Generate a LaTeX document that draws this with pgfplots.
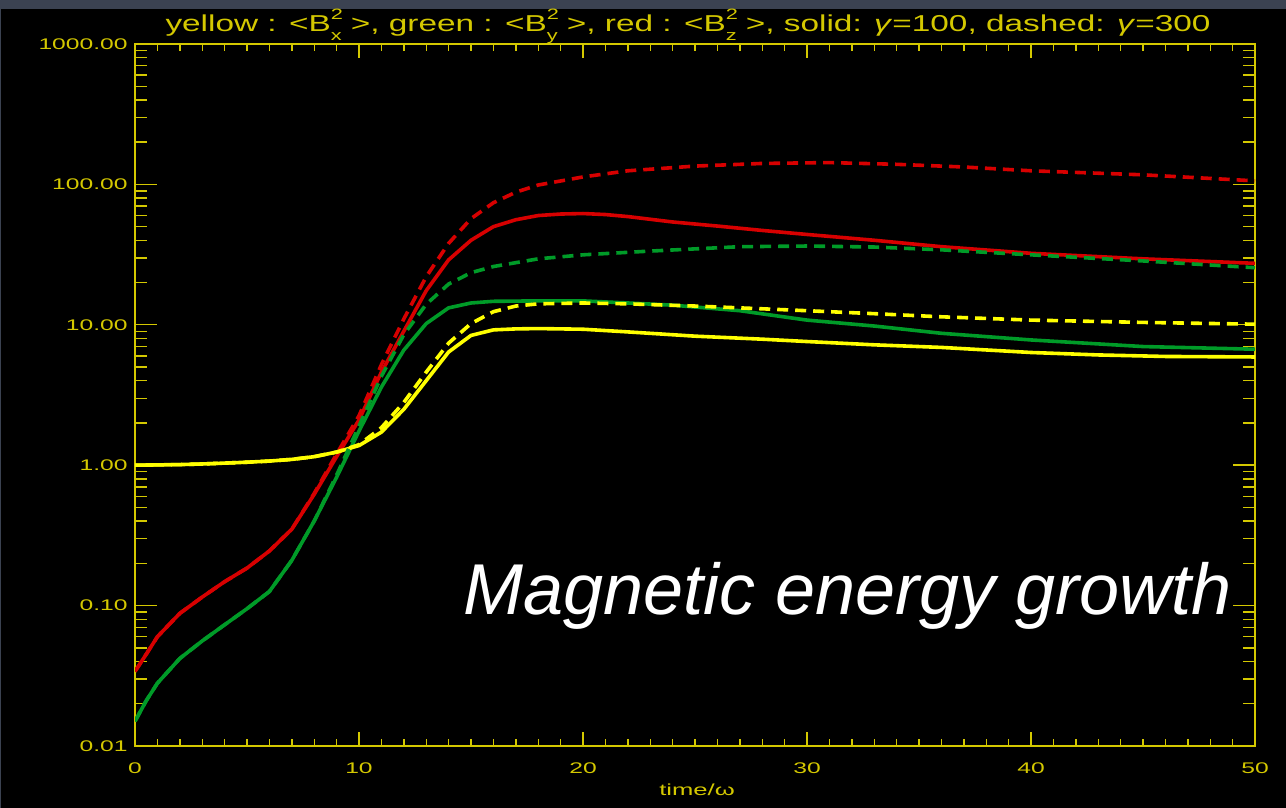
\documentclass[border=0pt]{standalone}
\usepackage{fontspec}
\setmainfont{Liberation Sans}
\newfontfamily\idlfont[FakeStretch=1.6]{Liberation Sans}
\newfontfamily\idltitle[FakeStretch=1.45]{Liberation Sans}
\newfontfamily\magfont{Liberation Sans}
\usepackage{pgfplots}
\pgfplotsset{compat=1.18}
\definecolor{axyel}{RGB}{212,200,0}
\definecolor{cyel}{RGB}{255,255,0}
\definecolor{cgrn}{RGB}{0,155,40}
\definecolor{cred}{RGB}{215,0,0}
\definecolor{bgray}{RGB}{59,66,81}
\newcommand\bsub[1]{\rlap{\raisebox{0.55em}{\fontsize{7.5}{8}\selectfont 2}}\raisebox{-0.35em}{\fontsize{7.5}{8}\selectfont #1}}
\pgfplotsset{
  idlbase/.style={
    scale only axis, width=560pt, height=351pt,
    at={(67.5pt,31pt)}, anchor=south west,
    xmin=0, xmax=50, ymin=0.01, ymax=1000,
    axis line style={axyel, line width=0.9pt},
    tick style={axyel, line width=0.7pt},
    tick align=inside,
    tick pos=both,
    ticklabel style={text=axyel, font=\idlfont\fontsize{7.7}{9}\selectfont},
  }
}
\begin{document}
\begin{tikzpicture}
\fill[black] (0,0) rectangle (643pt,404pt);
\fill[bgray] (0,399.5pt) rectangle (643pt,404pt);
\fill[bgray] (0,0) rectangle (0.5pt,404pt);
% y ticks axis
\begin{axis}[ymode=log, idlbase,
  xtick=\empty,
  ytick={0.01,0.1,1,10,100,1000},
  yticklabels={0.01,0.10,1.00,10.00,100.00,1000.00},
  minor ytick={0.02,0.03,0.04,0.05,0.06,0.07,0.08,0.09,0.2,0.3,0.4,0.5,0.6,0.7,0.8,0.9,2,3,4,5,6,7,8,9,20,30,40,50,60,70,80,90,200,300,400,500,600,700,800,900},
  major tick length=11pt, minor tick length=6pt,
  yticklabel pos=left,
  yticklabel style={anchor=east, inner sep=0pt, xshift=-3.5pt},
]
\end{axis}
% x ticks axis + data
\begin{axis}[ymode=log, idlbase,
  ytick=\empty,
  xtick={0,10,20,30,40,50},
  xticklabels={0,10,20,30,40,50},
  minor x tick num=9,
  major tick length=7pt, minor tick length=3.5pt,
  xticklabel pos=lower,
  xticklabel style={anchor=north, inner sep=0pt, yshift=-8pt},
  every axis plot/.append style={line width=1.8pt, line join=round},
]
% green solid
\addplot[cgrn] coordinates {(0,0.015) (0.5,0.021) (1,0.028) (2,0.042) (3,0.056) (4,0.073) (5,0.095) (6,0.126) (7,0.21) (8,0.40) (9,0.82) (10,1.75) (11,3.6) (12,6.6) (13,10.2) (14,13.2) (15,14.3) (16,14.7) (18,14.8) (20,14.8) (22,14.3) (24,13.8) (27,12.6) (30,10.8) (33,9.8) (36,8.7) (40,7.8) (45,7.0) (50,6.7)};
% red solid
\addplot[cred] coordinates {(0,0.034) (0.5,0.045) (1,0.060) (2,0.088) (3,0.115) (4,0.148) (5,0.185) (6,0.245) (7,0.35) (8,0.62) (9,1.15) (10,2.1) (11,4.6) (12,9.0) (13,17.5) (14,29) (15,40) (16,50) (17,56) (18,60) (19,61.5) (20,62) (21,61) (22,59) (24,54) (26,50.5) (28,47) (30,44) (33,40) (36,36) (40,32.3) (45,29.5) (50,27.4)};
% yellow solid
\addplot[cyel] coordinates {(0,1.00) (1,1.005) (2,1.01) (3,1.02) (4,1.035) (5,1.05) (6,1.07) (7,1.10) (8,1.15) (9,1.24) (10,1.38) (11,1.72) (12,2.5) (13,4.0) (14,6.4) (15,8.4) (16,9.2) (17,9.35) (18,9.4) (20,9.3) (22,8.9) (25,8.3) (28,7.9) (30,7.6) (33,7.2) (36,6.9) (40,6.35) (43,6.1) (46,5.95) (50,5.9)};
% green dashed
\addplot[cgrn, dash pattern=on 5.5pt off 3.5pt] coordinates {(0,0.015) (0.5,0.021) (1,0.028) (2,0.042) (3,0.056) (4,0.073) (5,0.095) (6,0.126) (7,0.21) (8,0.40) (9,0.85) (10,1.9) (11,4.3) (12,8.5) (13,14) (14,19.5) (15,23.5) (16,26) (18,29.5) (20,31.5) (23,33.5) (27,36) (30,36.4) (33,35.8) (36,34.2) (40,31.5) (45,28.5) (50,25.5)};
% red dashed
\addplot[cred, dash pattern=on 5.5pt off 3.5pt] coordinates {(0,0.034) (0.5,0.045) (1,0.060) (2,0.088) (3,0.115) (4,0.148) (5,0.185) (6,0.245) (7,0.35) (8,0.63) (9,1.2) (10,2.25) (11,5.2) (12,11) (13,22) (14,38) (15,57) (16,74) (17,88) (18,99) (20,113) (22,125) (25,135) (28,141) (31,143) (34,139) (37,133) (40,125) (45,117) (50,106)};
% yellow dashed
\addplot[cyel, dash pattern=on 5.5pt off 3.5pt] coordinates {(0,1.00) (1,1.005) (2,1.01) (3,1.02) (4,1.035) (5,1.05) (6,1.07) (7,1.10) (8,1.15) (9,1.24) (10,1.40) (11,1.85) (12,2.8) (13,4.6) (14,7.4) (15,10.2) (16,12.4) (17,13.6) (18,14.1) (20,14.3) (22,14.1) (25,13.6) (28,13.0) (30,12.6) (33,12.0) (36,11.4) (40,10.8) (45,10.4) (50,10.1)};
\end{axis}
\node[anchor=base, text=axyel, inner sep=0pt, font=\idltitle\fontsize{11.5}{13}\selectfont] at (344pt,388pt)
  {yellow : <B\bsub{x} >, green : <B\bsub{y} >, red : <B\bsub{z} >, solid: \textit{γ}=100, dashed: \textit{γ}=300};
\node[anchor=base, text=axyel, inner sep=0pt, font=\idlfont\fontsize{8}{9}\selectfont] at (348.5pt,6pt) {time/ω};
\node[anchor=base west, text=white, inner sep=0pt, font=\magfont\itshape\fontsize{36}{40}\selectfont] at (231.5pt,96.5pt) {Magnetic energy growth};
\pgfresetboundingbox
\useasboundingbox (0,0) rectangle (643pt,404pt);
\end{tikzpicture}
\end{document}
